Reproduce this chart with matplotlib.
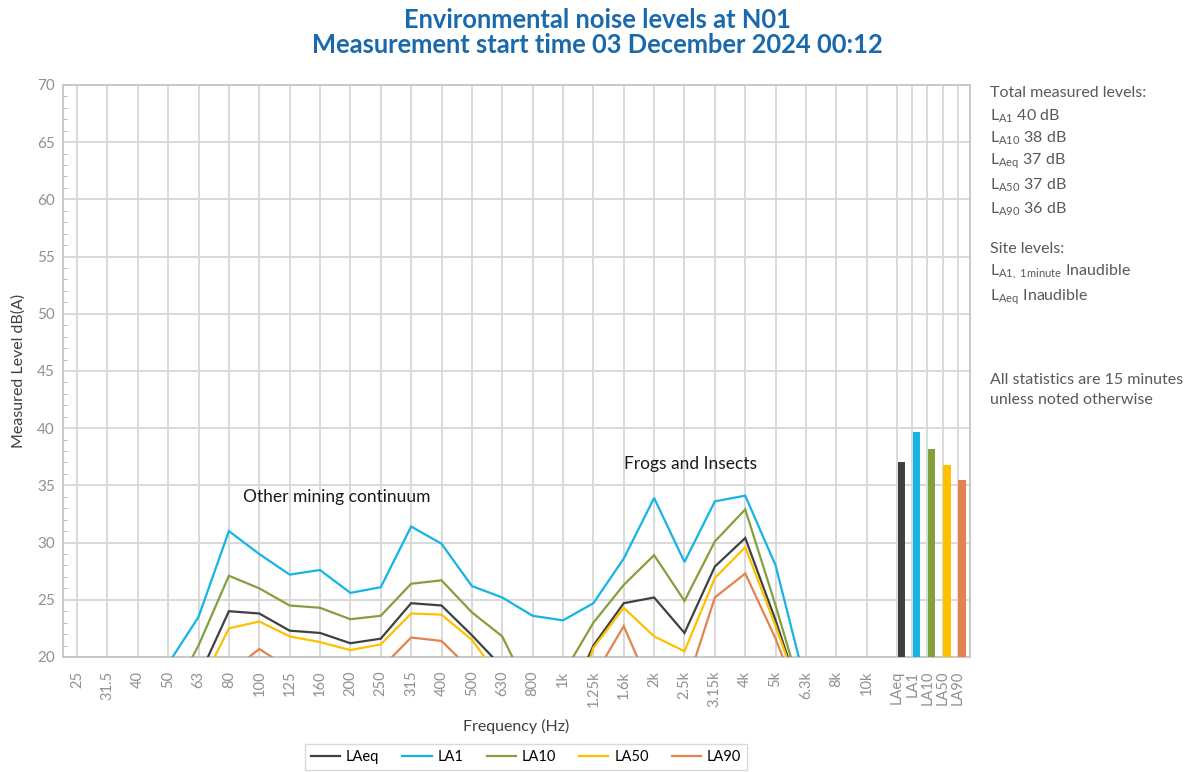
import numpy as np
import matplotlib
matplotlib.use('Agg')
import matplotlib.pyplot as plt
import matplotlib as mpl
from matplotlib.ticker import MultipleLocator

# Third-octave band levels, dB(A) (values under 20 are clipped)
bands = ['25', '31.5', '40', '50', '63', '80', '100', '125', '160', '200',
         '250', '315', '400', '500', '630', '800', '1k', '1.25k', '1.6k',
         '2k', '2.5k', '3.15k', '4k', '5k', '6.3k', '8k', '10k']
la1 = [12.0, 13.5, 16.0, 19.4, 23.5, 31.0, 29.0, 27.2, 27.6, 25.6, 26.1,
       31.4, 29.9, 26.2, 25.2, 23.6, 23.2, 24.7, 28.6, 33.9, 28.3, 33.6,
       34.1, 28.0, 17.5, 14.0, 12.5]
la10 = [9.0, 10.5, 13.0, 16.0, 21.0, 27.1, 26.0, 24.5, 24.3, 23.3, 23.6,
        26.4, 26.7, 23.9, 21.8, 16.4, 18.5, 23.0, 26.3, 28.9, 24.9, 30.1,
        32.9, 24.5, 15.5, 12.0, 11.0]
laeq = [8.0, 9.5, 12.0, 14.5, 18.2, 24.0, 23.8, 22.3, 22.1, 21.2, 21.6,
        24.7, 24.5, 21.9, 19.1, 14.5, 15.0, 21.0, 24.7, 25.2, 22.1, 27.9,
        30.4, 23.2, 15.2, 11.5, 10.5]
la50 = [7.0, 8.5, 11.0, 13.5, 17.2, 22.5, 23.1, 21.8, 21.3, 20.6, 21.1,
        23.8, 23.7, 21.5, 17.9, 13.0, 12.8, 20.8, 24.3, 21.8, 20.5, 26.9,
        29.6, 22.7, 15.3, 11.0, 10.0]
la90 = [5.0, 6.5, 9.0, 11.0, 14.5, 18.6, 20.7, 19.0, 17.5, 16.5, 19.0,
        21.7, 21.4, 18.8, 15.0, 11.0, 12.0, 18.2, 22.7, 16.6, 17.0, 25.2,
        27.3, 21.6, 14.7, 10.5, 9.5]

# Total measured levels (bars at the right end)
stat_names = ['LAeq', 'LA1', 'LA10', 'LA50', 'LA90']
stat_totals = [37.0, 39.7, 38.2, 36.75, 35.5]

series = {'LAeq': laeq, 'LA1': la1, 'LA10': la10, 'LA50': la50, 'LA90': la90}
colors = {'LAeq': '#404040', 'LA1': '#14B4E6', 'LA10': '#84A03C',
          'LA50': '#FFC000', 'LA90': '#E3834F'}

mpl.rc('font', family=['Lato', 'DejaVu Sans'])
mpl.rcParams['mathtext.fontset'] = 'custom'
mpl.rcParams['mathtext.rm'] = 'Lato'
mpl.rcParams['mathtext.it'] = 'Lato'

fig = plt.figure(figsize=(11.94, 7.72), dpi=100)
ax = fig.add_axes([0.0528, 0.149, 0.7596, 0.741])

x_band = np.arange(len(bands))
x_stat = len(bands) + 0.5 * np.arange(len(stat_names))

for name in ['LAeq', 'LA1', 'LA10', 'LA50', 'LA90']:
    ax.plot(x_band, series[name], color=colors[name], lw=1.6, label=name,
            solid_joinstyle='miter', zorder=3)

for xs, name, val in zip(x_stat, stat_names, stat_totals):
    ax.bar(xs + 0.02, val - 20, bottom=20, width=0.24, align='edge',
           color=colors[name], zorder=3)

grid_col = '#D9D9D9'
ax.set_xlim(-0.46, x_stat[-1] + 0.4)
ax.set_ylim(20, 70)
ax.set_xticks(np.concatenate([x_band, x_stat]))
ax.set_xticklabels(bands + stat_names, rotation=90, fontsize=10.5,
                   color='#909090')
ax.yaxis.set_major_locator(MultipleLocator(5))
ax.yaxis.set_minor_locator(MultipleLocator(1))
ax.tick_params(axis='x', length=0, pad=10)
ax.tick_params(axis='y', which='major', length=0, pad=6, labelsize=11,
               labelcolor='#909090')
ax.tick_params(axis='y', which='minor', direction='in', length=3,
               color='#B0B0B0')
ax.grid(True, color=grid_col, lw=1.4, zorder=0)
for sp in ax.spines.values():
    sp.set_color('#C8C8C8')
    sp.set_linewidth(1.4)

ax.set_xlabel('Frequency (Hz)', fontsize=11.5, color='#404040', labelpad=8)
ax.set_ylabel('Measured Level dB(A)', fontsize=11.5, color='#404040',
              labelpad=8)

ax.text(8.56, 34.0, 'Other mining continuum', fontsize=12.5, ha='center',
        va='center', color='#1a1a1a', zorder=4)
ax.text(20.2, 36.9, 'Frogs and Insects', fontsize=12.5, ha='center',
        va='center', color='#1a1a1a', zorder=4)

fig.suptitle('Environmental noise levels at N01\n'
             'Measurement start time 03 December 2024 00:12',
             x=0.5, y=0.99, fontsize=18.4, fontweight='bold', color='#1A69AD',
             linespacing=1.05)

# Right-hand notes
notes = [
    (93, 'Total measured levels:'),
    (116, r'L$_{\mathrm{A1}}$ 40 dB'),
    (138, r'L$_{\mathrm{A10}}$ 38 dB'),
    (161, r'L$_{\mathrm{Aeq}}$ 37 dB'),
    (185, r'L$_{\mathrm{A50}}$ 37 dB'),
    (209, r'L$_{\mathrm{A90}}$ 36 dB'),
    (249, 'Site levels:'),
    (272, r'L$_{\mathrm{A1,\ 1minute}}$ Inaudible'),
    (297, r'L$_{\mathrm{Aeq}}$ Inaudible'),
    (380, 'All statistics are 15 minutes'),
    (400, 'unless noted otherwise'),
]
for ypix, txt in notes:
    fig.text(990 / 1194, 1 - ypix / 772, txt, fontsize=11.5, color='#595959',
             ha='left', va='center')

leg = fig.legend(*ax.get_legend_handles_labels(), loc='center',
                 bbox_to_anchor=(526 / 1194, 1 - 757 / 772), ncol=5,
                 fontsize=10.5, frameon=True, fancybox=False,
                 edgecolor='#D0D0D0', handlelength=2.0, columnspacing=1.6,
                 handletextpad=0.4, borderpad=0.4)
leg.get_frame().set_linewidth(1.0)

fig.savefig('out.png', dpi=100)
